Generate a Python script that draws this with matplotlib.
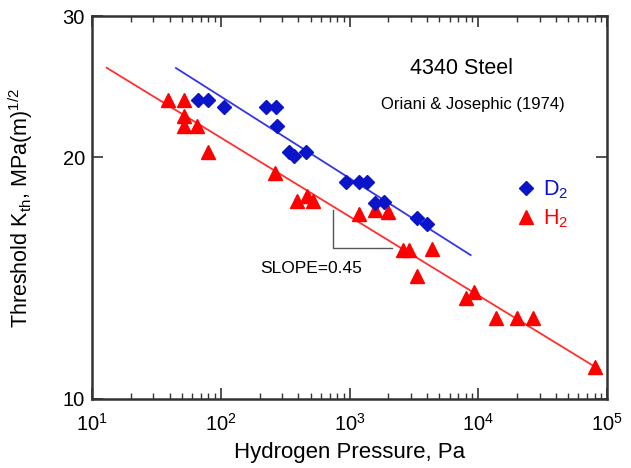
import matplotlib
matplotlib.use("Agg")
import matplotlib.pyplot as plt
from matplotlib.ticker import FixedLocator, NullLocator, LogLocator, FixedFormatter

plt.rcParams['font.family'] = ['Liberation Sans', 'DejaVu Sans']
plt.rcParams['mathtext.fontset'] = 'custom'
plt.rcParams['mathtext.rm'] = 'Liberation Sans'
plt.rcParams['mathtext.it'] = 'Liberation Sans'
plt.rcParams['mathtext.default'] = 'regular'

# D2 data (pressure Pa, threshold K MPa m^1/2)
d2_p = [66, 79, 106, 224, 269, 275, 341, 371, 459, 940, 1186, 1361, 1578, 1854, 3326, 3979]
d2_k = [23.6, 23.6, 23.1, 23.1, 23.1, 21.9, 20.3, 20.1, 20.3, 18.65, 18.65, 18.65, 17.55, 17.6, 16.8, 16.5]

# H2 data
h2_p = [38.7, 52.1, 52.1, 51.8, 65.7, 80, 264, 393, 465, 523, 1186, 1578, 1981,
        2618, 2917, 4395, 3326, 7980, 9312, 13670, 19860, 26780, 80680]
h2_k = [23.6, 23.6, 22.5, 21.9, 21.9, 20.3, 19.1, 17.65, 17.9, 17.65, 17.0, 17.2, 17.1,
        15.33, 15.33, 15.36, 14.23, 13.37, 13.58, 12.6, 12.6, 12.6, 10.97]

# fitted lines (end points)
d2_fit_p = [44.9, 8730]
d2_fit_k = [25.84, 15.11]
h2_fit_p = [13.0, 88300]
h2_fit_k = [25.86, 10.87]

# slope triangle annotation
slope_p = [740, 740, 2130]
slope_k = [17.2, 15.44, 15.44]

fig = plt.figure(figsize=(6.31, 4.68), dpi=100)
ax = fig.add_axes([92 / 631, 1 - 399 / 468, 515 / 631, 383 / 468])
ax.set_xscale('log')
ax.set_yscale('log')

ax.plot(h2_fit_p, h2_fit_k, color='#ff3030', lw=1.3, zorder=2)
ax.plot(d2_fit_p, d2_fit_k, color='#3535e8', lw=1.3, zorder=2)
ax.plot(slope_p, slope_k, color='#555555', lw=1.0, zorder=2)

ax.plot(h2_p, h2_k, ls='none', marker='^', ms=10.5, color='#ff0000', mec='#ff0000',
        label='H$_2$', zorder=3)
ax.plot(d2_p, d2_k, ls='none', marker='D', ms=7.5, color='#0a14c8', mec='#0a14c8',
        label='D$_2$', zorder=4)

ax.set_xlim(10, 1e5)
ax.set_ylim(10, 30)

ax.xaxis.set_major_locator(LogLocator(base=10, numticks=10))
ax.xaxis.set_minor_locator(LogLocator(base=10, subs=range(2, 10), numticks=20))
ax.yaxis.set_major_locator(FixedLocator([10, 20, 30]))
ax.yaxis.set_major_formatter(FixedFormatter(['10', '20', '30']))
ax.yaxis.set_minor_locator(NullLocator())

ax.tick_params(which='both', direction='in', top=True, right=True, colors='#333333',
               labelcolor='black', labelsize=14.5)
ax.tick_params(which='major', length=8, width=1.2, pad=5)
ax.tick_params(axis='x', which='major', pad=10)
ax.tick_params(which='minor', length=4.5, width=1.0)
for s in ax.spines.values():
    s.set_linewidth(1.8)
    s.set_color('#333333')

ax.set_xlabel('Hydrogen Pressure, Pa', fontsize=16, labelpad=5)
ax.set_ylabel('Threshold K$_{th}$, MPa(m)$^{1/2}$', fontsize=15.5, labelpad=20)

ax.text(0.717, 0.862, '4340 Steel', transform=ax.transAxes, fontsize=15.5, ha='center', va='center')
ax.text(0.74, 0.768, 'Oriani & Josephic (1974)', transform=ax.transAxes, fontsize=12,
        ha='center', va='center')
ax.text(502, 14.55, 'SLOPE=0.45', fontsize=12.5, ha='center', va='center')

handles, labels = ax.get_legend_handles_labels()
leg = ax.legend(handles[::-1], labels[::-1], loc='center left', bbox_to_anchor=(0.78, 0.508),
                frameon=False, fontsize=15.5, labelcolor='linecolor', handletextpad=0.2,
                labelspacing=0.28, handlelength=1.2)

fig.savefig('out.png', dpi=100)
